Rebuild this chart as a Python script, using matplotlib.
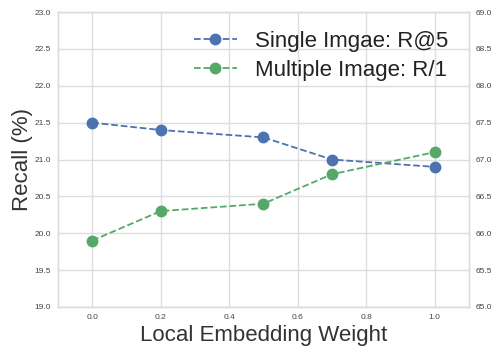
import matplotlib
matplotlib.use("Agg")
import matplotlib.pyplot as plt
import seaborn as sns

weights = [0.0, 0.2, 0.5, 0.7, 1.0]
single_r5 = [21.5, 21.4, 21.3, 21.0, 20.9]
multi_r1 = [65.9, 66.3, 66.4, 66.8, 67.1]
xticks = [0.0, 0.2, 0.4, 0.6, 0.8, 1.0]

sns.set_style("whitegrid")
plt.rcParams['font.family'] = ['Liberation Sans', 'DejaVu Sans']

fig = plt.figure(figsize=(4.91, 3.46), dpi=100)
ax = fig.add_axes([0.118, 0.113, 0.837, 0.852])
ax2 = ax.twinx()

blue = '#4C72B0'
green = '#55A868'
l1, = ax.plot(weights, single_r5, '--o', color=blue, markersize=7.5, lw=1.3, label='Single Imgae: R@5')
l2, = ax2.plot(weights, multi_r1, '--o', color=green, markersize=7.5, lw=1.3, label='Multiple Image: R/1')

ax.set_xlim(-0.1, 1.1)
ax.set_xticks(xticks)
ax.set_ylim(19.0, 23.0)
ax.set_yticks([19.0 + 0.5 * i for i in range(9)])
ax2.set_ylim(65.0, 69.0)
ax2.set_yticks([65.0 + 0.5 * i for i in range(9)])
ax2.grid(False)

for a in (ax, ax2):
    a.tick_params(labelsize=6, colors='#444444', length=0, pad=5)
    for s in a.spines.values():
        s.set_color('#dddddd')
        s.set_linewidth(1.0)
ax.grid(True, color='#dddddd', lw=1.0)
ax.set_xticklabels([f'{v:.1f}' for v in xticks])
ax.set_yticklabels([f'{19.0 + 0.5 * i:.1f}' for i in range(9)])
ax2.set_yticklabels([f'{65.0 + 0.5 * i:.1f}' for i in range(9)])

ax.set_xlabel('Local Embedding Weight', fontsize=16, color='#333333', labelpad=3)
ax.set_ylabel('Recall (%)', fontsize=16, color='#333333', labelpad=1)

leg = ax.legend(handles=[l1, l2], loc='upper right', bbox_to_anchor=(0.971, 0.966),
                fontsize=16, frameon=False, handlelength=1.95, borderaxespad=0.0,
                labelspacing=0.36, handletextpad=0.8)
for t in leg.get_texts():
    t.set_color('#222222')

fig.savefig('out.png', dpi=100)
